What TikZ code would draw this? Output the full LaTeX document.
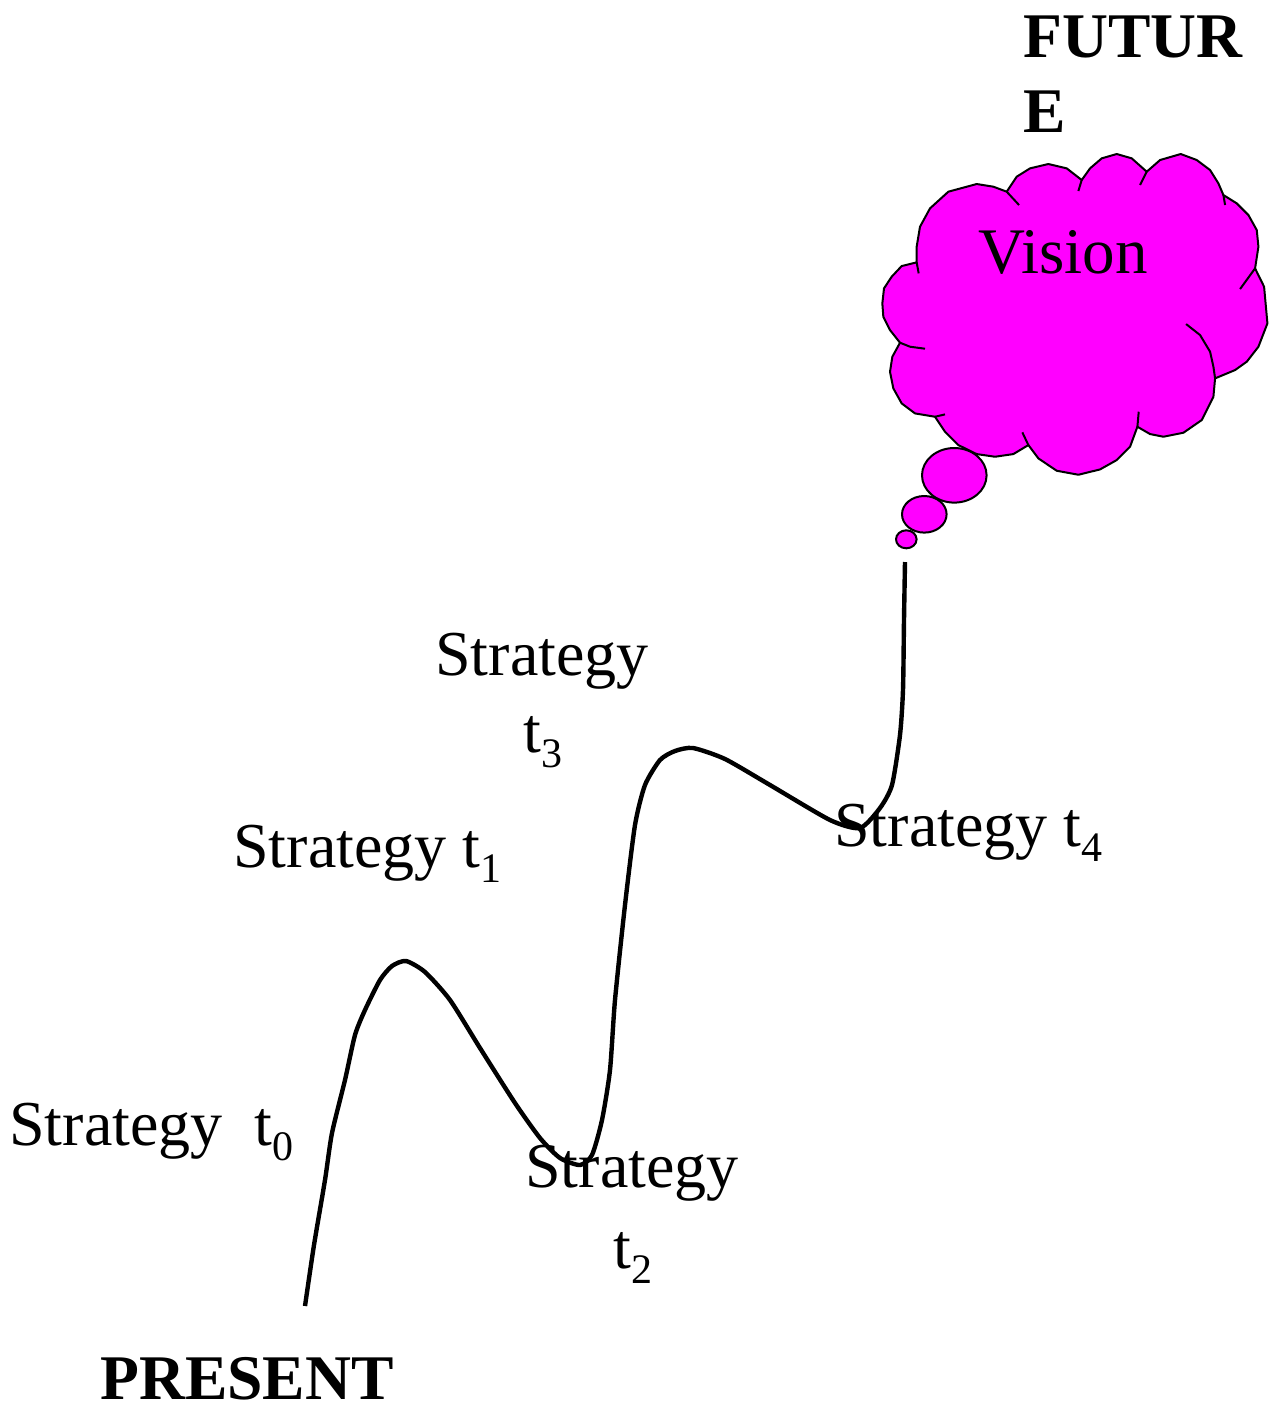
\documentclass[tikz,border=0pt]{standalone}
\usepackage{fontspec}
\setmainfont{Liberation Serif}
\definecolor{cloudpink}{RGB}{255,0,255}
\newcommand{\subdigit}[1]{\raisebox{-7.6pt}{\fontsize{21}{21}\selectfont #1}}
\tikzset{
  label text/.style={inner sep=0pt, anchor=base west, font=\fontsize{32}{46}\selectfont},
  bold text/.style={label text, font=\fontsize{31.8}{38}\selectfont\bfseries},
  puff/.style={draw, fill=cloudpink, line width=1pt, line join=round},
  crease/.style={draw, line width=1pt, line join=round},
  roadline/.style={draw, line width=2.2pt, smooth, tension=0.4},
}
\begin{document}
\begin{tikzpicture}[x=0.5pt, y=-0.5pt]
  \useasboundingbox (0, 0) rectangle (1270, 1405);

  % cloud, traced at 3x about (860,130)
  \begin{scope}[shift={(860, 130)}, x=0.1667pt, y=-0.1667pt]
    \draw[puff] (440,185) -- (470,140) -- (510,115) -- (565,102) -- (620,115) -- (665,150)
      -- (690,115) -- (725,85) -- (770,72) -- (815,85) -- (860,125)
      -- (900,90) -- (962,72) -- (1010,90) -- (1050,120) -- (1075,160) -- (1090,195)
      -- (1130,220) -- (1165,255) -- (1190,300) -- (1195,350) -- (1185,415)
      -- (1212,470) -- (1222,580) -- (1195,650) -- (1160,695) -- (1125,720) -- (1065,745)
      -- (1060,800) -- (1025,870) -- (970,908) -- (910,920) -- (870,912) -- (832,890)
      -- (810,950) -- (770,990) -- (720,1018) -- (655,1034) -- (590,1022) -- (535,985) -- (505,945)
      -- (460,972) -- (405,980) -- (350,972) -- (295,945) -- (255,905) -- (225,860)
      -- (165,850) -- (125,820) -- (100,775) -- (90,725) -- (97,680) -- (120,638)
      -- (90,600) -- (70,560) -- (67,520) -- (72,475) -- (95,440) -- (125,408) -- (170,397)
      -- (170,350) -- (180,290) -- (210,235) -- (265,185) -- (350,162) -- (400,170) -- cycle;
    \draw[crease] (440,185) -- (477,225);
    \draw[crease] (665,150) -- (655,183);
    \draw[crease] (860,125) -- (840,165);
    \draw[crease] (1090,195) -- (1095,225);
    \draw[crease] (1185,415) -- (1140,477);
    \draw[crease] (978,582) -- (1020,615) -- (1050,665) -- (1060,710) -- (1065,745);
    \draw[crease] (832,890) -- (836,845);
    \draw[crease] (505,945) -- (487,907);
    \draw[crease] (225,860) -- (255,853);
    \draw[crease] (120,638) -- (150,650) -- (195,656);
    \draw[crease] (170,397) -- (176,430);
  \end{scope}
  \draw[puff] (954.3, 475.3) ellipse [x radius=32.3, y radius=27.3];
  \draw[puff] (924.3, 514.3) ellipse [x radius=22.3, y radius=18.3];
  \draw[puff] (906.3, 539.3) ellipse [x radius=10.3, y radius=9];

  % path
  \draw[roadline] plot coordinates {(305,1306) (314,1245) (325,1180) (332,1133) (345,1080)
    (355,1035) (365,1010) (380,980) (392,966) (406,961) (425,972) (450,1000) (480,1048)
    (515,1103) (540,1138) (560,1158) (580,1165) (592,1155) (602,1120) (610,1070) (615,1000)
    (625,905) (635,825) (645,785) (660,760) (675,751) (693,748) (725,759) (770,785)
    (830,820) (860,828) (880,808) (892,785) (900,735) (903,690) (904,620) (905,562)};

  \node[bold text] (future) at (1023, 57) {FUTUR};
  \node[bold text] (futuree) at (1023, 132) {E};
  \node[label text, font=\fontsize{32.5}{46}\selectfont] (vision) at (978, 273) {Vision};
  \node[label text] (stratthree) at (435, 675) {Strategy};
  \node[label text] (stratthreet) at (523, 752) {t\subdigit{3}};
  \node[label text] (stratone) at (233, 867) {Strategy t\subdigit{1}};
  \node[label text] (stratfour) at (834, 846) {Strategy t\subdigit{4}};
  \node[label text] (stratzero) at (9, 1145) {Strategy\ \ t\subdigit{0}};
  \node[label text] (strattwo) at (525, 1187) {Strategy};
  \node[label text] (strattwot) at (613, 1268) {t\subdigit{2}};
  \node[bold text] (present) at (100, 1399) {PRESENT};
\end{tikzpicture}
\end{document}
